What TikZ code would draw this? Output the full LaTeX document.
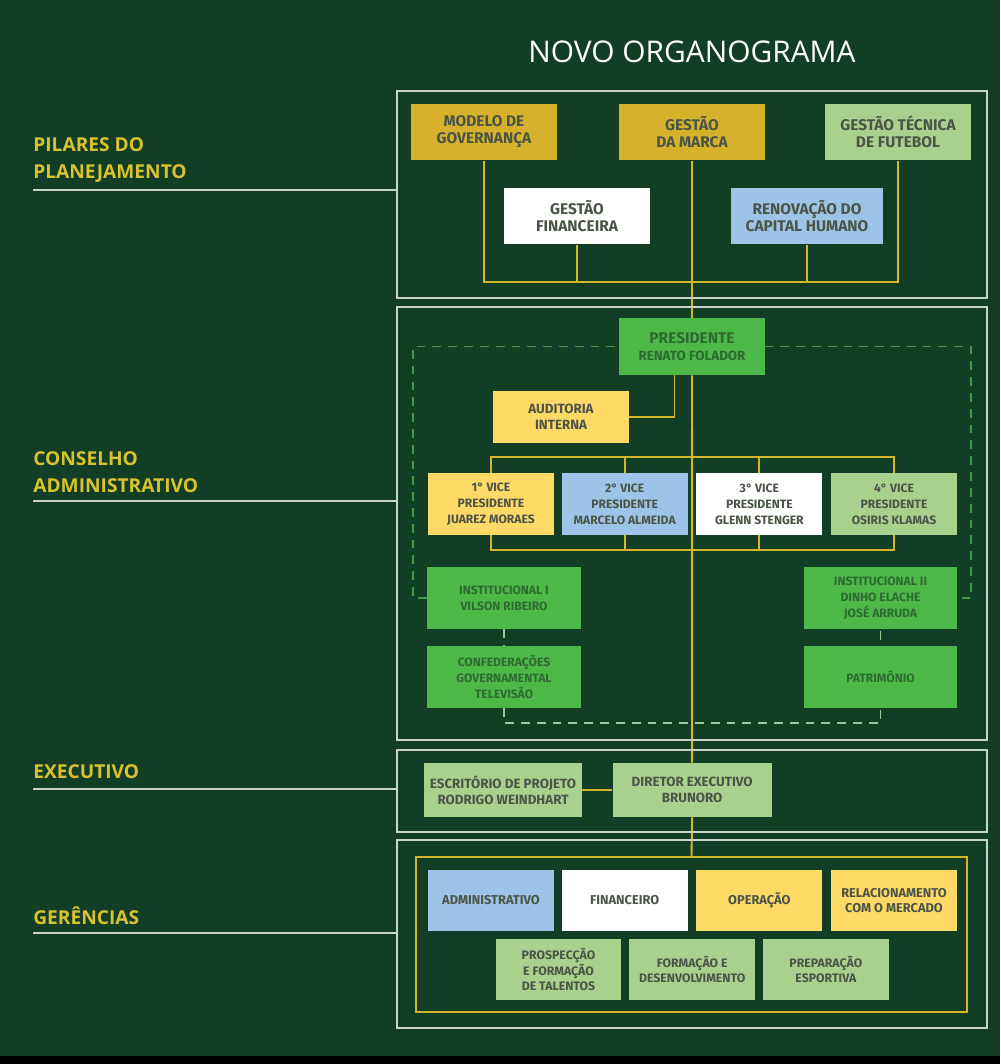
\documentclass[tikz,border=0pt]{standalone}
\usepackage{fontspec}
\newfontfamily\boxfont{Fira Sans}
\newfontfamily\headfont{Open Sans}
\usepackage{xcolor}
\definecolor{cBg}{HTML}{133E26}
\definecolor{cGold}{HTML}{D6B22C}
\definecolor{cSun}{HTML}{FFD966}
\definecolor{cSky}{HTML}{9DC3E6}
\definecolor{cSage}{HTML}{A9D18E}
\definecolor{cLeaf}{HTML}{4CB848}
\definecolor{cLine}{HTML}{D6B52B}
\definecolor{cFrame}{HTML}{C9D4C9}
\definecolor{cInk}{HTML}{4A5548}
\definecolor{cLeafInk}{HTML}{2F6B30}
\definecolor{cLabel}{HTML}{D8C22F}
\definecolor{cDashA}{HTML}{3E9A45}
\definecolor{cDashB}{HTML}{9CC79A}
\usepackage{tikz}
\usetikzlibrary{positioning,backgrounds}
\tikzset{
  node-box/.style={inner sep=1pt,align=center,text=cInk,
    font=\boxfont\bfseries\fontsize{8.8}{9.7}\selectfont,
    minimum width=2.92cm,minimum height=1.14cm},
  node-vp/.style={node-box,minimum width=2.52cm,minimum height=1.24cm,
    font=\boxfont\bfseries\fontsize{6.9}{9.1}\selectfont},
  node-ger/.style={node-box,minimum width=2.52cm,minimum height=1.22cm,
    font=\boxfont\bfseries\fontsize{7.3}{8.8}\selectfont},
  node-gold/.style={fill=cGold},
  node-sun/.style={fill=cSun},
  node-sky/.style={fill=cSky},
  node-white/.style={fill=white},
  node-sage/.style={fill=cSage},
  node-leaf/.style={fill=cLeaf,text=cLeafInk},
  link/.style={draw=cLine,line width=1.1pt},
  frame/.style={draw=cFrame,line width=1.1pt},
  dash-green/.style={draw=cDashA,line width=1.1pt,dash pattern=on 5pt off 4pt},
  dash-pale/.style={draw=cDashB,line width=1.1pt,dash pattern=on 5pt off 4pt},
  label-txt/.style={anchor=west,align=left,inner sep=0pt,text=cLabel,
    font=\headfont\bfseries\fontsize{10.9}{15.6}\selectfont},
}

\begin{document}
\begin{tikzpicture}[x=0.02cm,y=-0.02cm]
  \useasboundingbox (0,0) rectangle (1000,1064);
  \begin{scope}[on background layer]
    \fill[cBg] (0,0) rectangle (1000,1064);
    \fill[black] (0,1056) rectangle (1000,1064);
  \end{scope}
  \node[text=white,font=\headfont\fontsize{17}{20}\selectfont] (title) at (692,52) {NOVO ORGANOGRAMA};
  % faixas
  \draw[frame] (397,91) rectangle (987,298);
  \draw[frame] (397,307) rectangle (987,740);
  \draw[frame] (397,750) rectangle (987,832);
  \draw[frame] (397,840) rectangle (987,1028);
  \node[label-txt] (lPil) at (33,160) {PILARES DO\\PLANEJAMENTO};
  \node[label-txt] (lCon) at (33,472) {CONSELHO\\ADMINISTRATIVO};
  \node[label-txt] (lExe) at (33,772) {EXECUTIVO};
  \node[label-txt] (lGer) at (33,916) {GERÊNCIAS};
  \draw[frame] (33,190) -- (397,190);
  \draw[frame] (33,501) -- (397,501);
  \draw[frame] (33,789) -- (397,789);
  \draw[frame] (33,933) -- (397,933);
  % pilares
  \node[node-box,node-gold] (gov)   at (484,132) {MODELO DE\\GOVERNANÇA};
  \node[node-box,node-gold] (marca) at (692,132) {GESTÃO\\DA MARCA};
  \node[node-box,node-sage] (tec)   at (898,132) {GESTÃO TÉCNICA\\DE FUTEBOL};
  \node[node-box,node-white] (fin)  at (577,216) {GESTÃO\\FINANCEIRA};
  \node[node-box,node-sky,minimum width=3.04cm] (ren) at (807,216) {RENOVAÇÃO DO\\CAPITAL HUMANO};
  \coordinate (bus) at (692,282);
  % conselho
  \node[node-box,node-leaf,minimum width=2.94cm] (pres) at (692,346.5)
    {PRESIDENTE\\{\fontsize{7.6}{9}\selectfont RENATO FOLADOR}};
  \node[node-box,node-sun,minimum width=2.72cm,minimum height=1.04cm,
    font=\boxfont\bfseries\fontsize{7.6}{9.1}\selectfont] (aud) at (561,417) {AUDITORIA\\INTERNA};
  \node[node-vp,node-sun] (vp1) at (491,504) {1° VICE\\PRESIDENTE\\JUAREZ MORAES};
  \node[node-vp,node-sky,right=0.14cm of vp1] (vp2) {2° VICE\\PRESIDENTE\\MARCELO ALMEIDA};
  \node[node-vp,node-white,right=0.16cm of vp2] (vp3) {3° VICE\\PRESIDENTE\\GLENN STENGER};
  \node[node-vp,node-sage,right=0.16cm of vp3] (vp4) {4° VICE\\PRESIDENTE\\OSIRIS KLAMAS};
  \coordinate (vtop) at (692,457);
  \coordinate (vbot) at (692,550);
  \node[node-vp,node-leaf,minimum width=3.08cm] (inst1) at (504,598) {INSTITUCIONAL I\\VILSON RIBEIRO};
  \node[node-vp,node-leaf,minimum width=3.08cm,below=0.32cm of inst1] (conf)
    {CONFEDERAÇÕES\\GOVERNAMENTAL\\TELEVISÃO};
  \node[node-vp,node-leaf,minimum width=3.06cm] (inst2) at (880.5,598) {INSTITUCIONAL II\\DINHO ELACHE\\JOSÉ ARRUDA};
  \node[node-vp,node-leaf,minimum width=3.06cm,below=0.32cm of inst2] (patr) {PATRIMÔNIO};
  \coordinate (dtl) at (413,346.5);
  \coordinate (dtr) at (971,346.5);
  \coordinate (dbot) at (692,723);
  % executivo
  \node[node-vp,node-sage,minimum width=3.16cm,minimum height=1.08cm,
    font=\boxfont\bfseries\fontsize{7.6}{8.9}\selectfont] (esc) at (503,790)
    {ESCRITÓRIO DE PROJETO\\RODRIGO WEINDHART};
  \node[node-vp,node-sage,minimum width=3.18cm,minimum height=1.08cm,
    font=\boxfont\bfseries\fontsize{7.6}{8.9}\selectfont,right=0.6cm of esc] (dir)
    {DIRETOR EXECUTIVO\\BRUNORO};
  % gerencias
  \node[draw=cLine,line width=1.1pt,minimum width=11.02cm,minimum height=3.1cm] (gerbox) at (691.5,934.5) {};
  \node[node-ger,node-sky] (adm) at (491,900.5) {ADMINISTRATIVO};
  \node[node-ger,node-white,right=0.14cm of adm] (fnc) {FINANCEIRO};
  \node[node-ger,node-sun,right=0.16cm of fnc] (ope) {OPERAÇÃO};
  \node[node-ger,node-sun,right=0.16cm of ope] (rel) {RELACIONAMENTO\\COM O MERCADO};
  \node[node-ger,node-sage,font=\boxfont\bfseries\fontsize{7}{8.8}\selectfont] (pro) at (558.5,969.5) {PROSPECÇÃO\\E FORMAÇÃO\\DE TALENTOS};
  \node[node-ger,node-sage,font=\boxfont\bfseries\fontsize{7}{8.8}\selectfont,right=0.14cm of pro] (frm) {FORMAÇÃO E\\DESENVOLVIMENTO};
  \node[node-ger,node-sage,font=\boxfont\bfseries\fontsize{7}{8.8}\selectfont,right=0.14cm of frm] (prp) {PREPARAÇÃO\\ESPORTIVA};
  \begin{scope}[on background layer]
    \draw[dash-green] (inst1.west) -| (dtl) -- (dtr) |- (inst2.east);
    \draw[dash-pale] (inst1.south) |- (dbot) -| (inst2.south);
    \draw[link] (gov.south) |- (bus) -| (tec.south);
    \draw[link] (fin.south) -- (fin.south |- bus);
    \draw[link] (ren.south) -- (ren.south |- bus);
    \draw[link] (marca.south) -- (pres.north);
    \draw[link] ([xshift=-0.35cm]pres.south) |- (aud.east);
    \draw[link] (pres.south) -- (dir.north);
    \draw[link] (vp1.north) |- (vtop) -| (vp4.north);
    \draw[link] (vp2.north) -- (vp2.north |- vtop);
    \draw[link] (vp3.north) -- (vp3.north |- vtop);
    \draw[link] (vp1.south) |- (vbot) -| (vp4.south);
    \draw[link] (vp2.south) -- (vp2.south |- vbot);
    \draw[link] (vp3.south) -- (vp3.south |- vbot);
    \draw[link] (esc) -- (dir);
    \draw[link] (dir.south) -- (gerbox.north);
  \end{scope}
\end{tikzpicture}
\end{document}
